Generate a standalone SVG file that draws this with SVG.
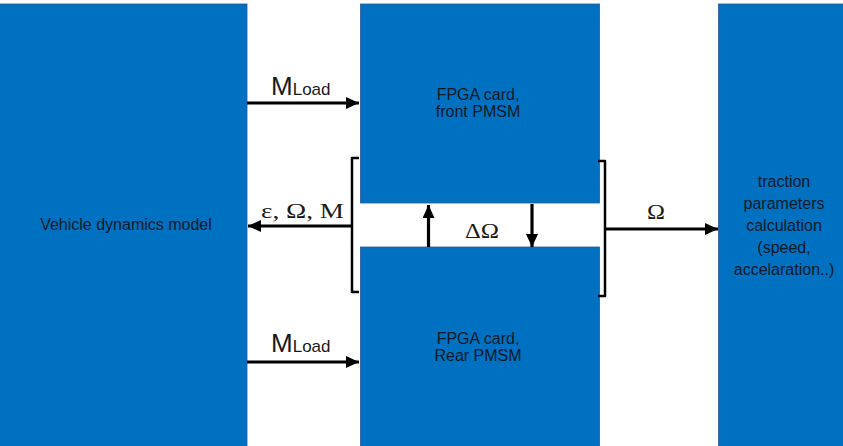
<svg xmlns="http://www.w3.org/2000/svg" width="843" height="446" viewBox="0 0 843 446">
<style>
.box{fill:#0070C0;stroke:#2F5597;stroke-width:0.8}
.bt{font-family:"Liberation Sans",Arial,sans-serif;font-size:16px;fill:#0d1a26;text-anchor:middle}
.ln{stroke:#000;stroke-width:3.2;fill:none}
.br{stroke:#000;stroke-width:2.5;fill:none;stroke-linejoin:round}
.sy{font-family:"Liberation Serif","Times New Roman",serif;font-size:22px;fill:#1a1a1a}
.ml{font-family:"Liberation Sans",Arial,sans-serif;fill:#1a1a1a}
</style>
<defs>
<marker id="ah" viewBox="0 0 13 12" refX="13" refY="6" markerWidth="13" markerHeight="12" markerUnits="userSpaceOnUse" orient="auto">
<path d="M0,0 L13,6 L0,12 Z" fill="#000"/>
</marker>
</defs>
<rect width="843" height="446" fill="#fff"/>
<g id="vehicle">
<rect class="box" x="-1" y="4" width="248" height="444"/>
<text class="bt" x="126" y="230">Vehicle dynamics model</text>
</g>
<g id="front">
<rect class="box" x="360.5" y="4" width="239" height="199"/>
<text class="bt" x="478" y="100" font-size="15.5">FPGA card,</text>
<text class="bt" x="478" y="117" font-size="15.5">front PMSM</text>
</g>
<g id="rear">
<rect class="box" x="360.5" y="247" width="239" height="201"/>
<text class="bt" x="478" y="344" font-size="15.5">FPGA card,</text>
<text class="bt" x="478" y="361" font-size="15.5">Rear PMSM</text>
</g>
<g id="traction">
<rect class="box" x="718.5" y="4" width="126" height="444"/>
<text class="bt" x="784" y="187">traction</text>
<text class="bt" x="784" y="209">parameters</text>
<text class="bt" x="784" y="231">calculation</text>
<text class="bt" x="784" y="253">(speed,</text>
<text class="bt" x="784" y="275">accelaration..)</text>
</g>
<g id="connectors">
<line class="ln" x1="247" y1="103" x2="359" y2="103" marker-end="url(#ah)"/>
<line class="ln" x1="247" y1="362" x2="359" y2="362" marker-end="url(#ah)"/>
<path class="br" d="M359,158 L352,158 L352,292 L359,292"/>
<line class="ln" x1="352" y1="226" x2="248" y2="226" marker-end="url(#ah)"/>
<path class="br" d="M598,161 L605,161 L605,296 L598,296"/>
<line class="ln" x1="605" y1="229" x2="718" y2="229" marker-end="url(#ah)"/>
<line class="ln" x1="428.5" y1="247" x2="428.5" y2="205" marker-end="url(#ah)"/>
<line class="ln" x1="532" y1="204" x2="532" y2="247" marker-end="url(#ah)"/>
</g>
<g id="labels">
<text class="ml" x="271" y="95"><tspan font-size="26">M</tspan><tspan font-size="17">Load</tspan></text>
<text class="ml" x="271" y="352"><tspan font-size="26">M</tspan><tspan font-size="17">Load</tspan></text>
<text class="sy" x="261" y="218" textLength="83" lengthAdjust="spacingAndGlyphs">ε, Ω, M</text>
<text class="sy" x="647" y="219" textLength="18" lengthAdjust="spacingAndGlyphs">Ω</text>
<text class="sy" x="465" y="238" textLength="34" lengthAdjust="spacingAndGlyphs">ΔΩ</text>
</g>
</svg>
